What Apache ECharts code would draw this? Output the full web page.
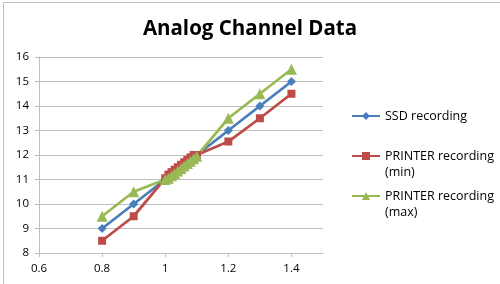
<!DOCTYPE html>
<html>
<head>
<meta charset="utf-8">
<script src="https://cdn.jsdelivr.net/npm/echarts@6/dist/echarts.min.js"></script>
<style>
  html, body { margin: 0; padding: 0; background: #fff; }
  #chart { width: 500px; height: 284px; }
</style>
</head>
<body>
<div id="chart"></div>
<script>
var myChart = echarts.init(document.getElementById('chart'));

// x positions shared by all three series
const xValues = [0.8, 0.9, 1.0, 1.01, 1.02, 1.03, 1.04, 1.05, 1.06, 1.07, 1.08, 1.09, 1.1, 1.2, 1.3, 1.4];
const ssdValues = [9, 10, 11, 11.1, 11.2, 11.3, 11.4, 11.5, 11.6, 11.7, 11.8, 11.9, 12, 13, 14, 15];
const minValues = [8.5, 9.5, 11.05, 11.2, 11.3, 11.4, 11.5, 11.6, 11.7, 11.8, 11.9, 12, 12, 12.55, 13.5, 14.5];
const maxValues = [9.5, 10.5, 11, 11.05, 11.15, 11.25, 11.35, 11.45, 11.55, 11.65, 11.75, 11.85, 11.95, 13.5, 14.5, 15.5];

const seriesNames = ['SSD recording', 'PRINTER recording\n(min)', 'PRINTER recording\n(max)'];
const seriesColors = ['#4a7ebb', '#be4b48', '#98b954'];
const seriesSymbols = ['diamond', 'rect', 'triangle'];

function pairs(ys) {
  return xValues.map(function (x, i) { return [x, ys[i]]; });
}

const allValues = [ssdValues, minValues, maxValues];
const symbolSizes = [9, 8, 11];

var option = {
  animation: false,
  title: {
    text: 'Analog Channel Data',
    left: 'center',
    top: 14,
    textStyle: {
      fontFamily: 'Open Sans',
      fontWeight: 'bold',
      fontSize: 20.5,
      color: '#000'
    }
  },
  graphic: [
    {
      type: 'rect',
      shape: { x: 3.5, y: 2.5, width: 600, height: 400 },
      style: { fill: 'none', stroke: '#c0c0c0', lineWidth: 1 },
      silent: true
    }
  ],
  legend: [0, 1, 2].map(function (i) {
    return {
      orient: 'vertical',
      left: 351,
      top: [108, 132, 172][i],
      padding: 0,
      data: [seriesNames[i]],
      itemWidth: 28,
      itemHeight: 10,
      itemGap: 2,
      // a blank first line keeps the icon level with the first line of text
      formatter: function (name) {
        return name.indexOf('\n') >= 0 ? '\n' + name : name;
      },
      textStyle: {
        fontFamily: 'Open Sans',
        fontSize: 12.5,
        color: '#000',
        lineHeight: 16
      }
    };
  }),
  grid: {
    left: 39,
    right: 177,
    top: 57,
    bottom: 31
  },
  xAxis: {
    type: 'value',
    min: 0.6,
    max: 1.5,
    interval: 0.2,
    axisLine: { show: true, onZero: false, lineStyle: { color: '#bfbfbf', width: 1 } },
    axisTick: { show: true, length: 4, lineStyle: { color: '#bfbfbf' } },
    splitLine: { show: false },
    axisLabel: {
      showMaxLabel: false,
      color: '#000',
      fontFamily: 'Open Sans',
      fontSize: 11.5,
      margin: 10,
      formatter: function (v) { return String(Math.round(v * 10) / 10); }
    }
  },
  yAxis: {
    type: 'value',
    min: 8,
    max: 16,
    interval: 1,
    axisLine: { show: true, onZero: false, lineStyle: { color: '#bfbfbf', width: 1 } },
    axisTick: { show: true, length: 4, lineStyle: { color: '#bfbfbf' } },
    splitLine: { show: true, lineStyle: { color: '#bfbfbf', width: 1 } },
    axisLabel: {
      color: '#000',
      fontFamily: 'Open Sans',
      fontSize: 11.5,
      margin: 10
    }
  },
  series: [0, 1, 2].map(function (i) {
    return {
      name: seriesNames[i],
      type: 'line',
      data: pairs(allValues[i]),
      symbol: seriesSymbols[i],
      symbolSize: symbolSizes[i],
      showAllSymbol: true,
      itemStyle: { color: seriesColors[i] },
      lineStyle: { color: seriesColors[i], width: 2.75 }
    };
  })
};

myChart.setOption(option);
</script>
</body>
</html>
